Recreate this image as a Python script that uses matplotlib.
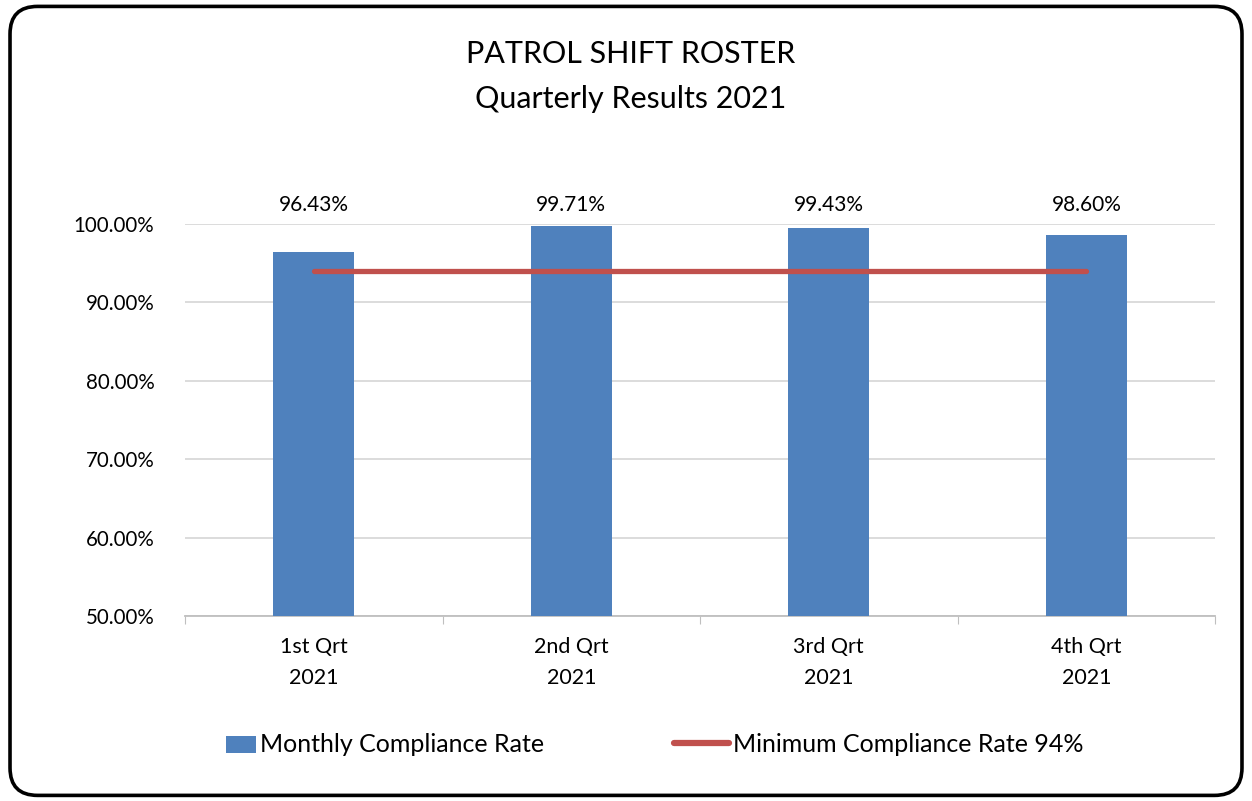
import matplotlib.pyplot as plt
from matplotlib.patches import FancyBboxPatch, Patch, Rectangle
from matplotlib.lines import Line2D
from matplotlib.legend_handler import HandlerPatch
from matplotlib.ticker import FuncFormatter

plt.rcParams['font.family'] = ['Lato', 'DejaVu Sans']

quarters = ['1st Qrt\n2021', '2nd Qrt\n2021', '3rd Qrt\n2021', '4th Qrt\n2021']
compliance = [0.9643, 0.9971, 0.9943, 0.9860]
minimum = [0.94, 0.94, 0.94, 0.94]

fig = plt.figure(figsize=(12.52, 8.01), dpi=100)

# rounded outer border
border = FancyBboxPatch((0.008, 0.007), 0.984, 0.985, boxstyle='round,pad=0,rounding_size=0.022',
                        transform=fig.transFigure, fill=False, edgecolor='black', linewidth=2.6,
                        mutation_aspect=1252 / 801)
fig.patches.append(border)

ax = fig.add_axes([0.1478, 0.2310, 0.8227, 0.4894])
x = range(len(quarters))
ax.bar(x, compliance, width=0.315, color='#4f81bd', zorder=3)
ax.plot(x, minimum, color='#c0504d', linewidth=3.8, solid_capstyle='round', zorder=4)

for i, v in enumerate(compliance):
    ax.text(i, 1.0 + 0.011, f'{v * 100:.2f}%', ha='center', va='bottom', fontsize=15, clip_on=False)

ax.set_xlim(-0.5, 3.5)
ax.set_ylim(0.5, 1.0)
ax.set_yticks([0.5, 0.6, 0.7, 0.8, 0.9, 1.0])
ax.yaxis.set_major_formatter(FuncFormatter(lambda v, p: f'{v * 100:.2f}%'))
ax.grid(axis='y', color='#d9d9d9', linewidth=1.3, zorder=0)
ax.set_xticks([-0.5, 0.5, 1.5, 2.5, 3.5])
ax.set_xticklabels([])
ax.set_xticks(list(x), minor=True)
ax.set_xticklabels(quarters, minor=True, fontsize=15.5, linespacing=1.72)
ax.tick_params(axis='x', which='major', length=6, color='#bfbfbf', direction='out')
ax.tick_params(axis='x', which='minor', length=0, pad=15)
ax.tick_params(axis='y', length=0, labelsize=14.8, pad=22)
for s in ['top', 'right', 'left']:
    ax.spines[s].set_visible(False)
ax.spines['bottom'].set_color('#bfbfbf')
ax.spines['bottom'].set_linewidth(1.3)

fig.text(0.504, 0.933, 'PATROL SHIFT ROSTER', ha='center', va='center', fontsize=22)
fig.text(0.504, 0.877, 'Quarterly Results 2021', ha='center', va='center', fontsize=22)


def narrow_patch(legend, orig_handle, xdescent, ydescent, width, height, fontsize):
    return Rectangle((-xdescent + width * 0.45, -ydescent - height * 0.1), width * 0.55, height * 1.0)


handles = [Patch(facecolor='#4f81bd'),
           Line2D([0], [0], color='#c0504d', linewidth=4.5, solid_capstyle='round')]
fig.legend(handles, ['Monthly Compliance Rate', 'Minimum Compliance Rate 94%'],
           handler_map={Patch: HandlerPatch(patch_func=narrow_patch)},
           loc='center', bbox_to_anchor=(0.513, 0.071), ncol=2, frameon=False, fontsize=18,
           columnspacing=5.2, handlelength=2.2, handletextpad=0.15)

fig.savefig('out.png', dpi=100)
